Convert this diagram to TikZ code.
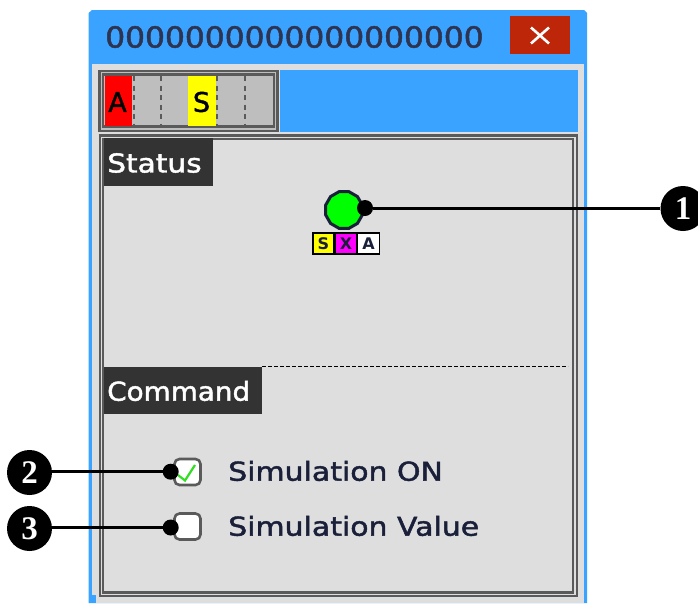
\documentclass[tikz,border=0pt]{standalone}
\usepackage{fontspec}
\usetikzlibrary{shapes.geometric}
\setmainfont{DejaVu Sans}[FakeBold=1.6]
\newfontfamily\heavyfont{DejaVu Sans Bold}
\newfontfamily\numfont{Liberation Serif}
\definecolor{winblue}{HTML}{3AA2FF}
\definecolor{wingray}{HTML}{DEDEDE}
\definecolor{frame}{HTML}{5A5A5A}
\definecolor{ink}{HTML}{2E3350}
\definecolor{deep}{HTML}{1A1F3A}
\definecolor{slot}{HTML}{BEBEBE}
\definecolor{closered}{HTML}{BD2608}
\definecolor{labfill}{HTML}{333333}
\definecolor{pureyellow}{HTML}{FFFF00}
\definecolor{puremagenta}{HTML}{FF00FF}
\definecolor{puregreen}{HTML}{00FF00}
\definecolor{purered}{HTML}{FF0000}
\definecolor{tick}{HTML}{33DD22}
\tikzset{
 x=1pt,y=-1pt,
 callout/.style={circle,fill=black,draw=none,text=white,minimum size=45pt,inner sep=0pt,font=\numfont\bfseries\fontsize{33}{33}\selectfont},
 dotend/.style={circle,fill=black,minimum size=16pt,inner sep=0pt},
 leader/.style={draw=black,line width=3pt},
 slotdash/.style={draw=frame,line width=1.8pt,dash pattern=on 5pt off 4.5pt},
 labtext/.style={anchor=west,text=white,font=\fontsize{26}{26}\selectfont},
 opt/.style={anchor=west,text=deep,font=\fontsize{26}{26}\selectfont,xscale=1.15},
 chk/.style={rounded corners=5pt,draw=frame,line width=2.6pt,fill=white,minimum width=26pt,minimum height=26pt,inner sep=0pt},
 sxa/.style={draw=black,line width=1.6pt,minimum height=21.5pt,inner sep=0pt,font=\heavyfont\fontsize{16}{16}\selectfont,text=deep},
 frameline/.style={draw=frame,line width=2.2pt},
}
\begin{document}
\begin{tikzpicture}
\useasboundingbox (0,0) rectangle (698,603);
% window
\fill[winblue] (88.5,13) -- (92,10) -- (584,10) -- (587,13) -- (587,603) -- (88.5,603) -- cycle;
\fill[wingray] (92,64) rectangle (584,603);
\fill[winblue] (90,595) rectangle (96,603);
\fill[wingray] (96,596) rectangle (584,603);
% title
\node[text=ink,font=\fontsize{29}{29}\selectfont,anchor=west,inner sep=0pt,xscale=1.08] (title) at (105,37) {0000000000000000000};
\fill[closered] (510,16) rectangle (570,54);
\draw[white,line width=2.6pt] (531,27.5) -- (549,43.5) (549,27.5) -- (531,43.5);
% toolbar
\fill[winblue] (280,70) rectangle (578,132);
\fill[slot] (100,72) rectangle (277,130);
\draw[frameline] (99.5,71) rectangle (277.5,131);
\draw[frameline] (103,74.5) rectangle (274,126.5);
\fill[purered] (104.5,76) rectangle (132,125.5);
\fill[pureyellow] (188,76) rectangle (216,125.5);
\node[text=black,font=\fontsize{27}{27}\selectfont] (a) at (117.5,102) {A};
\node[text=black,font=\fontsize{27}{27}\selectfont] (s) at (201.5,102) {S};
\foreach \xx in {133.7,161,217.3,245}{\draw[slotdash] (\xx,76) -- (\xx,125);}
% panel
\draw[frameline] (99.7,135.5) rectangle (577,596);
\draw[frameline] (103,139) rectangle (573,592.5);
\fill[labfill] (104,138) rectangle (212.5,186);
\node[labtext,inner sep=0pt,xscale=1.14] (status) at (107,163) {Status};
\draw[black,line width=1.2pt,dash pattern=on 3.5pt off 2.5pt] (262,366.5) -- (568,366.5);
\fill[labfill] (104,367) rectangle (262,414);
\node[labtext,inner sep=0pt,xscale=1.07] (command) at (107,391) {Command};
% lamp
\node[regular polygon,regular polygon sides=12,minimum size=38pt,inner sep=0pt,draw=deep,line width=3pt,fill=puregreen] (lamp) at (344,210) {};
\node[sxa,fill=pureyellow,minimum width=21pt] (bs) at (323.5,243.5) {S};
\node[sxa,fill=puremagenta,minimum width=21pt] (bx) at (346,243.5) {X};
\node[sxa,fill=white,minimum width=22pt] (ba) at (368.5,243.5) {A};
% checks
\node[chk] (c1) at (187.5,472) {};
\draw[tick,line width=2.2pt] (178,475) -- (185,480.5) -- (195,465);
\node[chk] (c2) at (187.5,526.5) {};
\node[opt,inner sep=0pt] (t1) at (228,471) {Simulation ON};
\node[opt,inner sep=0pt] (t2) at (228,526) {Simulation Value};
% callouts
\node[callout] (n1) at (683,208.5) {1};
\node[callout] (n2) at (29.5,472.5) {2};
\node[callout] (n3) at (29.5,528.5) {3};
\node[dotend] (d1) at (365,208) {};
\node[dotend] (d2) at (170.7,471.7) {};
\node[dotend] (d3) at (170.7,527.5) {};
\draw[leader] (d1) -- (n1.west |- d1);
\draw[leader] (n2.east |- d2) -- (d2);
\draw[leader] (n3.east |- d3) -- (d3);
\end{tikzpicture}
\end{document}
